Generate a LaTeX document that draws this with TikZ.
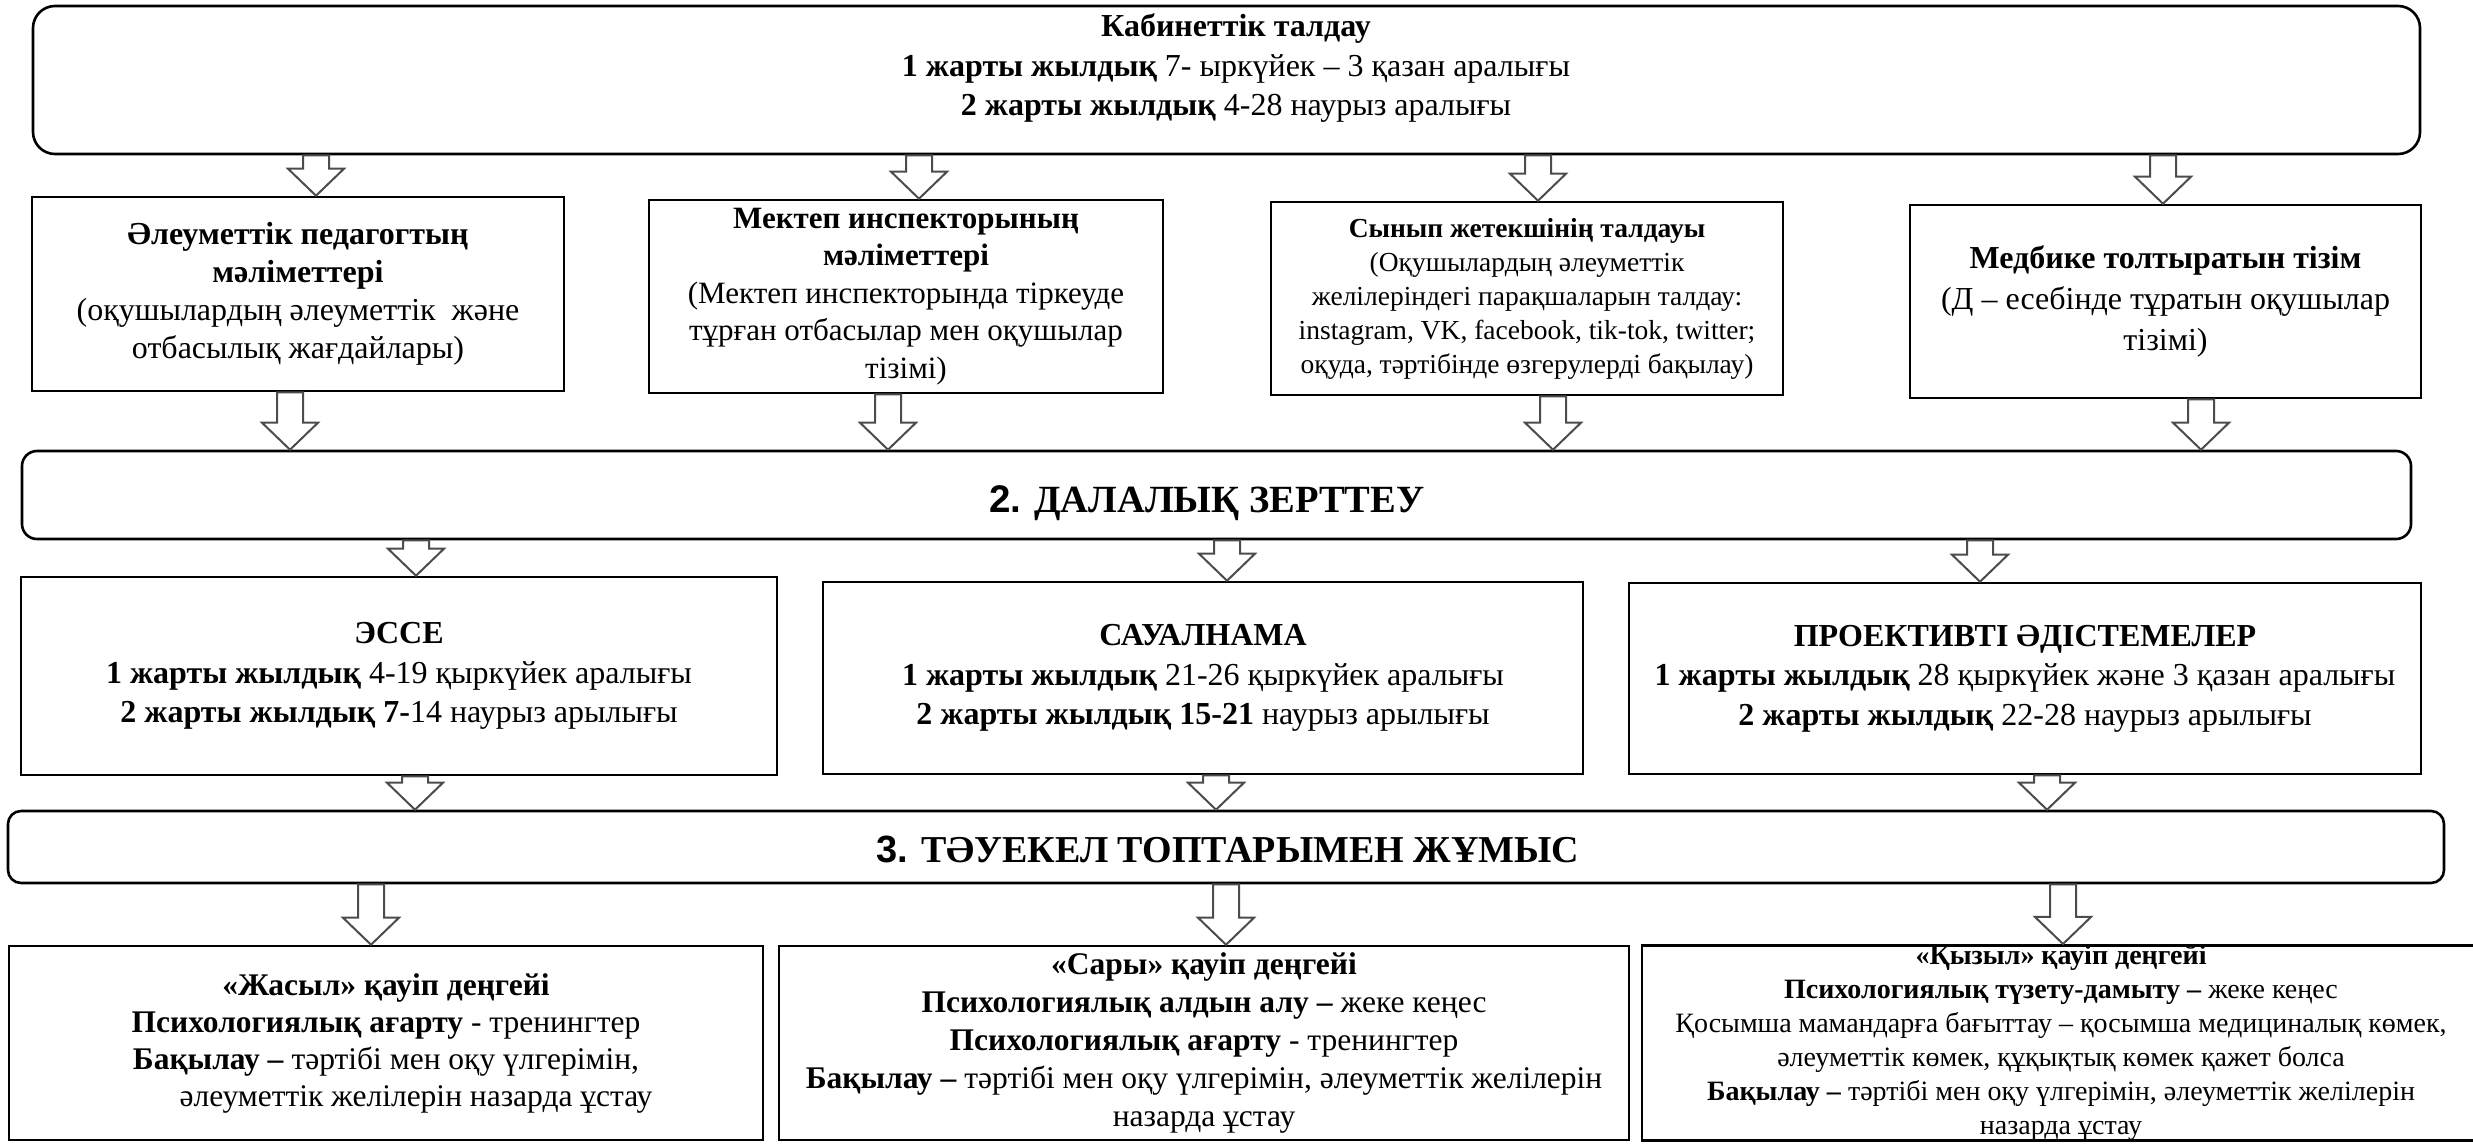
\documentclass[tikz,border=0pt]{standalone}
\usepackage{fontspec}
\setmainfont{Liberation Serif}
\setsansfont{Liberation Sans}
\usetikzlibrary{calc}
\newcommand\fsz[2]{\fontsize{#1}{#2}\selectfont}
\tikzset{
  sqbox/.style={draw, line width=2.6pt, inner sep=0pt, align=center},
  rndbox/.style={draw, line width=2.6pt, rounded corners=#1, inner sep=0pt, align=center},
  barrow/.style={draw=black!70, line width=2pt, fill=white, line join=miter},
  txt/.style={inner sep=0pt, align=center},
}
% block arrow: x position, source node, target node
\newcommand\barr[3]{%
  \draw[barrow] let \p1=(#2.south), \p2=(#3.north) in
   (#1pt-13pt,\y1) -- (#1pt+13pt,\y1) -- (#1pt+13pt,\y2+27pt) -- (#1pt+28pt,\y2+27pt)
   -- (#1pt,\y2) -- (#1pt-28pt,\y2+27pt) -- (#1pt-13pt,\y2+27pt) -- cycle;}
\begin{document}
\begin{tikzpicture}[x=1pt,y=-1pt]
\useasboundingbox (0,0) rectangle (2473,1143);
\clip (0,0) rectangle (2473,1143);
\fill[white] (0,0) rectangle (2473,1143);

% top box
\node[rndbox=22pt, minimum width=2387pt, minimum height=148pt] (top) at (1226.5,80) {};
\node[txt, font=\fsz{32}{39.5}] (toptxt) at (1236,68)
 {\textbf{Кабинеттік талдау}\\
  \textbf{1 жарты жылдық} 7- ыркүйек – 3 қазан аралығы\\
  \textbf{2 жарты жылдық} 4-28 наурыз аралығы};

% row 1
\node[sqbox, minimum width=532pt, minimum height=194pt, font=\fsz{32}{38}] (b1) at (298,294)
 {\textbf{Әлеуметтік педагогтың}\\ \textbf{мәліметтері}\\ (оқушылардың әлеуметтік\ \ және\\ отбасылық жағдайлары)};
\node[sqbox, minimum width=514pt, minimum height=193pt, font=\fsz{31}{37.5}] (b2) at (906,296.5)
 {\textbf{Мектеп инспекторының}\\ \textbf{мәліметтері}\\ (Мектеп инспекторында тіркеуде\\ тұрған отбасылар мен оқушылар\\ тізімі)};
\node[sqbox, minimum width=512pt, minimum height=193pt, font=\fsz{27.5}{34}] (b3) at (1527,298.5)
 {\textbf{Сынып жетекшінің талдауы}\\ (Оқушылардың әлеуметтік\\ желілеріндегі парақшаларын талдау:\\ instagram, VK, facebook, tik-tok, twitter;\\ оқуда, тәртібінде өзгерулерді бақылау)};
\node[sqbox, minimum width=511pt, minimum height=193pt, font=\fsz{32}{41}] (b4) at (2165.5,301.5)
 {\textbf{Медбике толтыратын тізім}\\ (Д – есебінде тұратын оқушылар\\ тізімі)};

% band 2
\node[rndbox=15pt, minimum width=2389pt, minimum height=88pt] (band2) at (1216.5,495) {};
\node[txt, anchor=base, font=\fsz{38.5}{40}\bfseries] (band2txt) at (1207,512)
 {{\sffamily 2.} ДАЛАЛЫҚ ЗЕРТТЕУ};

% row 2
\node[sqbox, minimum width=756pt, minimum height=198pt, font=\fsz{32}{39.5}] (r1) at (399,676)
 {\textbf{ЭССЕ}\\ \textbf{1 жарты жылдық} 4-19 қыркүйек аралығы\\ \textbf{2 жарты жылдық 7-}14 наурыз арылығы};
\node[sqbox, minimum width=760pt, minimum height=192pt, font=\fsz{32}{39.5}] (r2) at (1203,678)
 {\textbf{САУАЛНАМА}\\ \textbf{1 жарты жылдық} 21-26 қыркүйек аралығы\\ \textbf{2 жарты жылдық 15-21} наурыз арылығы};
\node[sqbox, minimum width=792pt, minimum height=191pt, font=\fsz{32}{39.5}] (r3) at (2025,678.5)
 {\textbf{ПРОЕКТИВТІ ӘДІСТЕМЕЛЕР}\\ \textbf{1 жарты жылдық} 28 қыркүйек және 3 қазан аралығы\\ \textbf{2 жарты жылдық} 22-28 наурыз арылығы};

% band 3
\node[rndbox=13pt, minimum width=2436pt, minimum height=72pt] (band3) at (1226,847) {};
\node[txt, anchor=base, font=\fsz{38}{40}\bfseries] (band3txt) at (1228,862)
 {{\sffamily 3.} ТӘУЕКЕЛ ТОПТАРЫМЕН ЖҰМЫС};

% row 3
\node[sqbox, minimum width=754pt, minimum height=194pt, font=\fsz{31.5}{37}] (g1) at (386,1043)
 {\textbf{«Жасыл» қауіп деңгейі}\\ \textbf{Психологиялық ағарту} - тренингтер\\ \textbf{Бақылау –} тәртібі мен оқу үлгерімін,\\ \hspace*{60pt}әлеуметтік желілерін назарда ұстау};
\node[sqbox, minimum width=850pt, minimum height=194pt, font=\fsz{31.5}{38}] (g2) at (1204,1043)
 {\textbf{«Сары» қауіп деңгейі}\\ \textbf{Психологиялық алдын алу –} жеке кеңес\\ \textbf{Психологиялық ағарту} - тренингтер\\ \textbf{Бақылау –} тәртібі мен оқу үлгерімін, әлеуметтік желілерін\\ назарда ұстау};
\node[sqbox, minimum width=838pt, minimum height=194pt, font=\fsz{28}{34}] (g3) at (2061,1043)
 {\textbf{«Қызыл» қауіп деңгейі}\\ \textbf{Психологиялық түзету-дамыту –} жеке кеңес\\ Қосымша мамандарға бағыттау – қосымша медициналық көмек,\\ әлеуметтік көмек, құқықтық көмек қажет болса\\ \textbf{Бақылау –} тәртібі мен оқу үлгерімін, әлеуметтік желілерін\\ назарда ұстау};

% arrows
\barr{316}{top}{b1}
\barr{919}{top}{b2}
\barr{1538}{top}{b3}
\barr{2163}{top}{b4}
\barr{290}{b1}{band2}
\barr{888}{b2}{band2}
\barr{1553}{b3}{band2}
\barr{2201}{b4}{band2}
\barr{416}{band2}{r1}
\barr{1227}{band2}{r2}
\barr{1980}{band2}{r3}
\barr{415}{r1}{band3}
\barr{1216}{r2}{band3}
\barr{2047}{r3}{band3}
\barr{371}{band3}{g1}
\barr{1226}{band3}{g2}
\barr{2063}{band3}{g3}
\end{tikzpicture}
\end{document}
